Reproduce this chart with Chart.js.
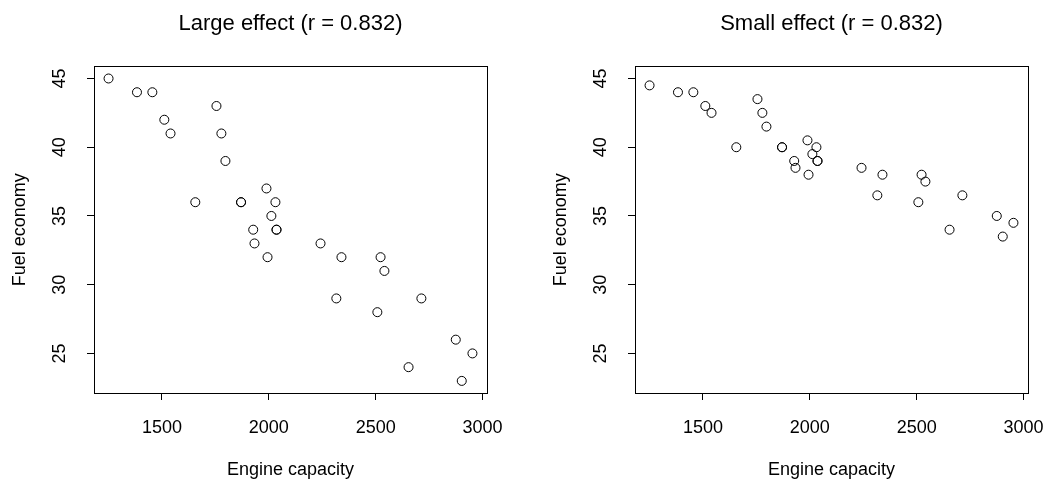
<!DOCTYPE html>
<html>
<head>
<meta charset="utf-8">
<script src="https://cdn.jsdelivr.net/npm/chart.js@4.4.0/dist/chart.umd.min.js"></script>
<style>
  html, body { margin: 0; padding: 0; background: #fff; overflow: hidden; }
  .panel { position: absolute; top: 0; width: 502px; height: 481px; }
</style>
</head>
<body>
<div class="panel" style="left:0px"><canvas id="largeChart" width="502" height="481"></canvas></div>
<div class="panel" style="left:541px"><canvas id="smallChart" width="502" height="481"></canvas></div>

<script>
// engine capacity, same for both panels
var engine = [1250, 1383, 1455, 1511, 1540, 1656, 1755, 1778, 1797, 1870,
              1870, 1927, 1933, 1989, 1994, 2012, 2031, 2036, 2036, 2242,
              2316, 2340, 2508, 2523, 2541, 2654, 2714, 2875, 2903, 2953];
// fuel economy, large effect
var fuelLarge = [45, 44, 44, 42, 41, 36, 43, 41, 39, 36,
                 36, 34, 33, 37, 32, 35, 36, 34, 34, 33,
                 29, 32, 28, 32, 31, 24, 29, 26, 23, 25];
// fuel economy, small effect
var fuelSmall = [44.5, 44, 44, 43, 42.5, 40, 43.5, 42.5, 41.5, 40,
                 40, 39, 38.5, 40.5, 38, 39.5, 40, 39, 39, 38.5,
                 36.5, 38, 36, 38, 37.5, 34, 36.5, 35, 33.5, 34.5];
var xTicks = [1500, 2000, 2500, 3000];
var yTicks = [25, 30, 35, 40, 45];

// R style 4% padding around the data range
function padRange(arr) {
    var lo = Math.min.apply(null, arr), hi = Math.max.apply(null, arr);
    var p = (hi - lo) * 0.04;
    return [lo - p, hi + p];
}
var xLim = padRange(engine);
var yLim = padRange(fuelLarge);

var fontFamily = "'Liberation Sans', Arial, sans-serif";
Chart.defaults.font.family = fontFamily;
Chart.defaults.color = '#000';

// box round the plot region
var boxPlugin = {
    id: 'plotBox',
    afterDraw: function(chart) {
        var a = chart.chartArea, ctx = chart.ctx;
        ctx.save();
        ctx.strokeStyle = '#000';
        ctx.lineWidth = 1;
        ctx.strokeRect(Math.round(a.left) + 0.5, Math.round(a.top) + 0.5,
                       Math.round(a.right - a.left), Math.round(a.bottom - a.top));
        ctx.restore();
    }
};

function plainLabel(v) { return String(v); }

function makeChart(canvasId, titleText, fuel) {
    var pts = engine.map(function(x, i) { return {x: x, y: fuel[i]}; });
    return new Chart(document.getElementById(canvasId).getContext('2d'), {
        type: 'scatter',
        data: {
            datasets: [{
                data: pts,
                pointStyle: 'circle',
                pointRadius: 4.5,
                pointHoverRadius: 4.5,
                borderWidth: 1,
                borderColor: '#000',
                backgroundColor: 'rgba(0,0,0,0)'
            }]
        },
        options: {
            responsive: false,
            animation: false,
            events: [],
            layout: { padding: { left: 0, right: 15, top: 0, bottom: 0 } },
            plugins: {
                legend: { display: false },
                tooltip: { enabled: false },
                title: {
                    display: true,
                    text: titleText,
                    fullSize: false,
                    color: '#000',
                    font: { size: 22, weight: 'normal', lineHeight: 1.2 },
                    padding: { top: 11, bottom: 29 }
                }
            },
            scales: {
                x: {
                    type: 'linear',
                    min: xLim[0],
                    max: xLim[1],
                    afterBuildTicks: function(s) { s.ticks = xTicks.map(function(v) { return {value: v}; }); },
                    afterFit: function(s) { s.height = 88; s.paddingLeft = 0; s.paddingRight = 0; },
                    border: { display: false },
                    grid: { drawOnChartArea: false, drawTicks: true, tickLength: 7, color: '#000', lineWidth: 1 },
                    ticks: { font: { size: 18 }, color: '#000', padding: 17, maxRotation: 0, autoSkip: false,
                             callback: plainLabel },
                    title: { display: true, text: 'Engine capacity', font: { size: 18 }, padding: { top: 0, bottom: 0 } }
                },
                y: {
                    type: 'linear',
                    min: yLim[0],
                    max: yLim[1],
                    afterBuildTicks: function(s) { s.ticks = yTicks.map(function(v) { return {value: v}; }); },
                    afterFit: function(s) { s.width = 94; s.paddingTop = 0; s.paddingBottom = 0; },
                    border: { display: false },
                    grid: { drawOnChartArea: false, drawTicks: true, tickLength: 7, color: '#000', lineWidth: 1 },
                    ticks: { font: { size: 18 }, color: '#000', padding: 17, minRotation: 90, maxRotation: 90,
                             crossAlign: 'center', autoSkip: false, callback: plainLabel },
                    title: { display: true, text: 'Fuel economy', font: { size: 18 }, padding: { top: 9, bottom: 0 } }
                }
            }
        },
        plugins: [boxPlugin]
    });
}

makeChart('largeChart', 'Large effect (r = 0.832)', fuelLarge);
makeChart('smallChart', 'Small effect (r = 0.832)', fuelSmall);
</script>
</body>
</html>
